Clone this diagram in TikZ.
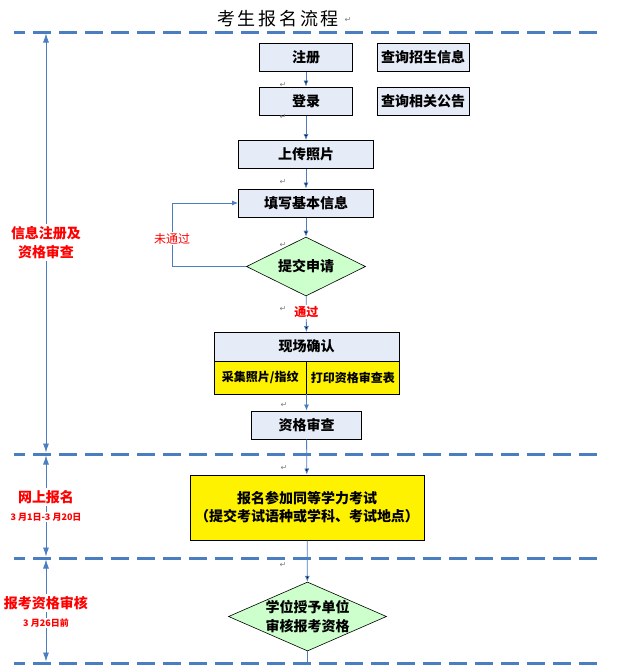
\documentclass[tikz,border=0pt]{standalone}
\usepackage{fontspec}
\setmainfont{Noto Sans CJK SC}
\newfontfamily\titlefont[LetterSpace=15]{Noto Sans CJK SC}
\newfontfamily\retfont{DejaVu Sans}
\usetikzlibrary{shapes,arrows.meta,positioning}
\definecolor{boxblue}{RGB}{230,236,247}
\definecolor{laneblue}{RGB}{74,126,193}
\definecolor{passgreen}{RGB}{204,255,204}

\begin{document}
\begin{tikzpicture}[x=1pt,y=-1pt,
    every node/.style={font=\bfseries\fontsize{14}{18}\selectfont,inner sep=0pt},
    procbox/.style={draw,line width=1pt,fill=boxblue,minimum height=28pt},
    yellowbox/.style={draw,line width=1pt,fill=yellow,outer sep=0pt,font=\bfseries\fontsize{12}{14}\selectfont,minimum height=33pt},
    checkbox/.style={diamond,aspect=2,draw,line width=.6pt,fill=passgreen,inner sep=-4pt,font=\bfseries\fontsize{14}{19}\selectfont},
    flowline/.style={draw=laneblue,line width=.8pt,-{Latex[length=6pt,width=5pt]}},
    laneline/.style={draw=laneblue,line width=3pt,dash pattern=on 18pt off 8pt,dash phase=7pt},
    spanline/.style={draw=laneblue,line width=.8pt,{Latex[length=9pt,width=6pt]}-{Latex[length=9pt,width=6pt]},shorten <=1.5pt,shorten >=1.5pt},
    phasetag/.style={text=red,fill=white,align=center,inner sep=2pt,font=\bfseries\fontsize{14}{19}\selectfont},
    datetag/.style={text=red,fill=white,inner sep=1pt,font=\bfseries\fontsize{9}{11}\selectfont},
    retmark/.style={text=gray,font=\retfont\fontsize{8}{8}\selectfont}]

  \useasboundingbox (0,0) rectangle (635,665);

  \node[font=\titlefont\fontsize{18}{18}\selectfont] (title) at (278,19) {考生报名流程};

  % lanes and time spans
  \foreach \y/\n in {32/0,454/1,558/2,663/3}{
    \draw[laneline] (14,\y) -- (600,\y);
    \coordinate (t\n) at (46,\y);
  }
  \draw[spanline] (t0) -- (t1);
  \draw[spanline] (t1) -- (t2);
  \draw[spanline] (t2) -- (t3);

  \node[phasetag] (stage1) at (46,242.5) {信息注册及\\资格审查};
  \node[phasetag] (stage2) at (46,497)   {网上报名};
  \node[datetag]  (date2)  at (46,517)   {3 月1日-3 月20日};
  \node[phasetag] (stage3) at (46,603)   {报考资格审核};
  \node[datetag]  (date3)  at (46,623)   {3 月26日前};

  % flow
  \node[procbox,minimum width=93pt]  (register)  at (306,57.5)  {注册};
  \node[procbox,minimum width=92pt]  (queryinfo) at (423,57.5)  {查询招生信息};
  \node[procbox,minimum width=93pt]  (login)     at (306,101)   {登录};
  \node[procbox,minimum width=92pt]  (querynews) at (423,101)   {查询相关公告};
  \node[procbox,minimum width=135pt] (photo)     at (306,154.5) {上传照片};
  \node[procbox,minimum width=135pt] (fillin)    at (306,203)   {填写基本信息};
  \node[checkbox,minimum width=119pt,minimum height=59pt] (submit) at (306,266.5) {提交申请};
  \node[procbox,minimum width=185pt,minimum height=29pt,outer sep=0pt] (onsite) at (306.5,346.5) {现场确认};
  \node[yellowbox,minimum width=92.5pt,anchor=north west] (collect)   at (onsite.south west) {采集照片/指纹};
  \node[yellowbox,minimum width=92.5pt,anchor=north east] (printform) at (onsite.south east) {打印资格审查表};
  \node[procbox,minimum width=110pt] (review) at (306.5,425) {资格审查};
  \node[draw,line width=1pt,fill=yellow,minimum width=234pt,minimum height=65pt,align=center] (exam) at (307,507.5)
       {报名参加同等学力考试\\（提交考试语种或学科、考试地点）};
  \node[checkbox,minimum width=158pt,minimum height=69pt,align=center] (grant) at (307.5,616.5) {学位授予单位\\审核报考资格};
  \coordinate (splitfoot) at (306.5,394);
  \coordinate (grantend) at (307.5,663);
  \coordinate (loopcorner) at (172,266.5);

  \path[flowline] (register) edge (login)
                  (login)    edge (photo)
                  (photo)    edge (fillin)
                  (fillin)   edge (submit)
                  (submit)   edge node[pos=.44,text=red,fill=white,inner sep=1pt,font=\bfseries\fontsize{12}{12}\selectfont] (passtag) {通过} (onsite)
                  (review)   edge (exam)
                  (exam)     edge (grant)
                  (grant)    edge[-] (grantend);
  \draw[flowline] (splitfoot) -- (review.north);
  \draw[flowline] (submit.west) -- (loopcorner) |- node[pos=.22,text=red,fill=white,inner sep=1pt,font=\mdseries\fontsize{12}{12}\selectfont] (failtag) {未通过} (fillin.west);

  % paragraph marks
  \foreach \x/\y [count=\i] in {348/20,283/85,283/117,283/182,283/245,283/309,284/405,284/468,283/565}
    \node[retmark] (ret\i) at (\x,\y) {↵};
\end{tikzpicture}
\end{document}
